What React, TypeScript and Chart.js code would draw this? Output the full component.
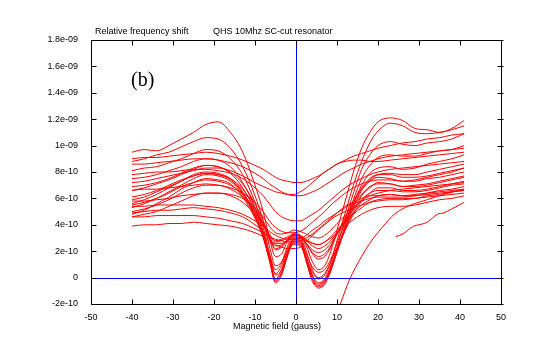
import React, { useEffect, useRef } from "react";
import { Chart, registerables } from "chart.js";

Chart.register(...registerables);

// Values in units of 1e-10 (relative frequency shift)
const UNIT = 1e-10;

const xGrid = [-40, -37, -34, -31, -28, -25, -22, -19, -16, -13, -10, -8, -6.5, -5, -3.5, -2, -0.5, 1, 2.5, 4, 5.5, 7, 8.5, 10, 12, 14, 16, 18, 20, 23, 26, 29, 32, 35, 38, 41];

// deep double-dip sweeps
const d1 = [9.5, 9.7, 9.6, 10.0, 10.5, 11.0, 11.6, 11.8, 11.0, 9.5, 7.0, 5.0, 3.0, 1.6, 1.8, 2.8, 3.3, 3.2, 2.4, 1.2, 0.6, 0.9, 2.0, 3.6, 5.8, 8.0, 9.8, 11.0, 11.8, 12.1, 11.9, 11.3, 11.2, 11.0, 11.3, 11.9];
const d2 = [8.8, 9.0, 9.3, 9.5, 9.9, 10.3, 10.6, 10.5, 9.8, 8.4, 6.2, 4.3, 2.4, 0.9, 1.2, 2.4, 3.2, 3.1, 2.0, 0.6, -0.1, 0.2, 1.2, 2.8, 4.9, 7.0, 8.8, 10.2, 11.1, 11.7, 11.5, 11.0, 10.9, 11.0, 11.2, 11.5];
const d3 = [8.1, 8.3, 8.4, 8.7, 9.0, 9.4, 9.7, 9.6, 9.0, 7.8, 5.7, 3.8, 1.9, 0.2, 0.6, 2.0, 3.0, 2.9, 1.6, 0.1, -0.5, -0.2, 0.8, 2.3, 4.4, 6.4, 8.2, 9.3, 10.0, 10.3, 10.1, 10.0, 10.2, 10.3, 10.5, 10.9];
const d4 = [7.5, 7.6, 7.8, 8.1, 8.4, 8.8, 9.0, 8.9, 8.4, 7.2, 5.3, 3.5, 1.6, -0.2, 0.3, 1.8, 2.9, 2.8, 1.4, -0.1, -0.8, -0.5, 0.5, 2.0, 4.0, 5.9, 7.5, 8.5, 9.1, 9.3, 9.2, 9.2, 9.4, 9.6, 9.7, 10.0];
const d5 = [6.6, 6.8, 7.1, 7.4, 7.8, 8.2, 8.5, 8.4, 7.9, 6.8, 5.0, 3.3, 1.4, -0.4, 0.2, 1.7, 2.8, 2.7, 1.2, -0.3, -0.7, -0.4, 0.6, 1.9, 3.8, 5.6, 7.0, 7.9, 8.3, 8.4, 8.2, 8.3, 8.6, 8.8, 9.0, 9.3];
const d6 = [5.9, 6.1, 6.5, 6.9, 7.3, 7.8, 8.0, 7.9, 7.5, 6.5, 4.8, 3.1, 1.3, -0.3, 0.4, 1.8, 2.7, 2.6, 1.3, -0.1, -0.6, -0.3, 0.7, 2.0, 3.7, 5.3, 6.6, 7.3, 7.6, 7.5, 7.3, 7.4, 7.6, 7.8, 8.0, 8.3];
const d7 = [5.3, 5.6, 6.0, 6.5, 7.0, 7.5, 7.8, 7.7, 7.3, 6.3, 4.6, 3.0, 1.4, -0.1, 0.6, 1.9, 2.6, 2.5, 1.4, 0.2, -0.4, -0.1, 0.9, 2.1, 3.6, 5.0, 6.2, 6.8, 7.2, 7.1, 6.9, 7.0, 7.1, 7.3, 7.5, 7.7];
const d8 = [4.8, 5.1, 5.6, 6.1, 6.7, 7.2, 7.5, 7.4, 7.1, 6.1, 4.5, 3.1, 1.6, 0.3, 0.9, 2.0, 2.5, 2.4, 1.5, 0.4, 0.0, 0.3, 1.2, 2.3, 3.6, 4.8, 5.8, 6.4, 6.8, 6.8, 6.6, 6.6, 6.7, 6.9, 7.1, 7.3];
const d9 = [5.6, 5.9, 6.3, 6.8, 7.3, 7.7, 7.9, 7.8, 7.4, 6.4, 4.7, 3.2, 1.8, 0.6, 1.1, 2.2, 2.9, 2.8, 1.8, 0.8, 0.4, 0.6, 1.4, 2.6, 4.2, 5.6, 6.7, 7.4, 7.8, 7.9, 7.8, 7.8, 8.0, 8.2, 8.4, 8.6];

// medium-dip sweeps
const m1 = [6.9, 7.0, 7.2, 7.5, 7.9, 8.3, 8.5, 8.4, 8.0, 7.1, 5.6, 4.3, 3.1, 2.1, 2.3, 2.9, 3.3, 3.2, 2.6, 1.8, 1.4, 1.6, 2.3, 3.3, 4.6, 5.8, 6.8, 7.5, 7.8, 7.8, 7.6, 7.6, 7.7, 7.9, 8.1, 8.3];
const m2 = [6.1, 6.3, 6.6, 7.0, 7.4, 7.7, 7.9, 7.8, 7.5, 6.7, 5.3, 4.1, 3.0, 2.2, 2.4, 2.9, 3.2, 3.1, 2.6, 1.9, 1.6, 1.8, 2.4, 3.3, 4.4, 5.5, 6.3, 6.9, 7.1, 7.1, 6.9, 6.9, 7.0, 7.2, 7.4, 7.6];
const m3 = [5.5, 5.7, 6.0, 6.4, 6.9, 7.2, 7.4, 7.3, 7.0, 6.3, 5.1, 4.0, 3.1, 2.4, 2.5, 2.9, 3.1, 3.0, 2.6, 2.1, 1.9, 2.1, 2.6, 3.3, 4.3, 5.2, 5.9, 6.4, 6.6, 6.6, 6.5, 6.5, 6.6, 6.8, 7.0, 7.1];
const m4 = [5.0, 5.2, 5.5, 5.9, 6.4, 6.8, 7.0, 7.0, 6.7, 6.1, 5.0, 4.0, 3.2, 2.7, 2.8, 3.0, 3.2, 3.1, 2.8, 2.4, 2.2, 2.4, 2.8, 3.4, 4.2, 4.9, 5.5, 5.9, 6.2, 6.3, 6.2, 6.2, 6.4, 6.6, 6.7, 6.9];
const m5 = [4.6, 4.8, 5.0, 5.4, 5.8, 6.2, 6.4, 6.4, 6.2, 5.7, 4.8, 4.0, 3.3, 2.8, 2.9, 3.1, 3.3, 3.2, 2.9, 2.6, 2.5, 2.7, 3.1, 3.6, 4.2, 4.8, 5.3, 5.7, 5.9, 6.0, 6.0, 6.0, 6.2, 6.3, 6.5, 6.6];
const m6 = [5.8, 5.8, 5.9, 6.0, 6.2, 6.3, 6.4, 6.4, 6.3, 6.0, 5.3, 4.6, 3.9, 3.4, 3.3, 3.4, 3.6, 3.5, 3.3, 3.1, 3.0, 3.2, 3.6, 4.1, 4.7, 5.3, 5.8, 6.2, 6.4, 6.6, 6.7, 6.8, 6.9, 7.0, 7.1, 7.2];
const m7 = [3.9, 4.0, 4.0, 4.1, 4.1, 4.2, 4.1, 4.0, 3.9, 3.7, 3.4, 3.1, 2.8, 2.6, 2.6, 2.8, 3.0, 3.0, 2.8, 2.6, 2.5, 2.7, 3.0, 3.4, 3.9, 4.4, 4.8, 5.1, 5.3, 5.4, 5.4, 5.5, 5.7, 5.9, 6.0, 6.2];

// shallow sweeps
const s1 = [9.0, 9.1, 9.1, 9.2, 9.3, 9.4, 9.5, 9.4, 9.2, 8.9, 8.5, 8.2, 7.9, 7.6, 7.4, 7.3, 7.2, 7.2, 7.3, 7.5, 7.7, 8.0, 8.3, 8.6, 8.9, 9.2, 9.4, 9.6, 9.8, 10.0, 10.2, 10.3, 10.5, 10.6, 10.8, 10.9];
const s2 = [8.6, 8.6, 8.7, 8.8, 8.9, 9.0, 9.0, 8.9, 8.7, 8.4, 7.9, 7.5, 7.1, 6.8, 6.5, 6.3, 6.2, 6.2, 6.3, 6.5, 6.7, 7.0, 7.3, 7.6, 8.0, 8.3, 8.6, 8.8, 9.0, 9.2, 9.3, 9.4, 9.5, 9.6, 9.7, 9.8];
const s3 = [7.8, 7.9, 8.0, 8.0, 8.1, 8.2, 8.2, 8.1, 7.9, 7.5, 6.8, 6.2, 5.6, 5.0, 4.6, 4.4, 4.3, 4.3, 4.5, 4.8, 5.1, 5.5, 5.9, 6.3, 6.8, 7.2, 7.5, 7.8, 8.0, 8.2, 8.3, 8.4, 8.5, 8.6, 8.7, 8.8];
const s4 = [6.6, 6.7, 6.7, 6.8, 6.9, 7.0, 7.1, 7.0, 6.8, 6.4, 5.7, 5.0, 4.3, 3.8, 3.5, 3.4, 3.4, 3.5, 3.8, 4.2, 4.6, 5.0, 5.5, 5.9, 6.4, 6.8, 7.1, 7.3, 7.4, 7.4, 7.3, 7.3, 7.5, 7.6, 7.8, 8.0];
const s5 = [5.4, 5.4, 5.5, 5.5, 5.5, 5.5, 5.4, 5.3, 5.1, 4.8, 4.3, 3.9, 3.5, 3.2, 3.0, 2.9, 2.9, 3.0, 3.2, 3.6, 3.9, 4.3, 4.6, 4.9, 5.3, 5.6, 5.8, 6.0, 6.1, 6.1, 6.1, 6.2, 6.3, 6.4, 6.5, 6.6];
const s6 = [4.6, 4.6, 4.7, 4.7, 4.7, 4.7, 4.6, 4.5, 4.3, 4.1, 3.7, 3.4, 3.1, 2.9, 2.8, 2.7, 2.7, 2.8, 3.0, 3.3, 3.7, 4.0, 4.4, 4.7, 5.0, 5.3, 5.5, 5.7, 5.8, 5.9, 5.9, 6.0, 6.1, 6.2, 6.3, 6.4];
const s7 = [4.9, 5.0, 5.1, 5.1, 5.2, 5.3, 5.2, 5.1, 4.9, 4.6, 4.0, 3.5, 2.9, 2.5, 2.3, 2.2, 2.2, 2.3, 2.7, 3.2, 3.6, 4.1, 4.5, 4.9, 5.4, 5.7, 6.0, 6.2, 6.2, 6.3, 6.2, 6.3, 6.4, 6.5, 6.6, 6.7];
const s8 = [7.2, 7.3, 7.5, 7.7, 7.9, 8.1, 8.3, 8.3, 8.1, 7.7, 7.2, 6.9, 6.7, 6.5, 6.4, 6.3, 6.3, 6.5, 6.8, 7.2, 7.6, 8.0, 8.3, 8.6, 8.8, 8.9, 8.9, 8.8, 8.8, 8.9, 9.0, 9.1, 9.2, 9.3, 9.4, 9.5];

// partial sweeps
const riseX = [10.8, 13, 16, 18, 21, 24, 28, 32, 36, 41];
const riseY = [-2.0, -0.2, 1.6, 2.6, 3.8, 4.8, 5.5, 5.9, 6.3, 6.7];
const tailX = [24.3, 26, 28.7, 30, 32, 34.5, 36, 38, 41];
const tailY = [3.1, 3.3, 3.9, 4.0, 4.2, 4.8, 4.9, 5.2, 5.7];

const fullCurves = [d1, d2, d3, d4, d5, d6, d7, d8, d9, m1, m2, m3, m4, m5, m6, m7, s1, s2, s3, s4, s5, s6, s7, s8];

const xTicks = [-50, -40, -30, -20, -10, 0, 10, 20, 30, 40, 50];
const yTicks = [-2, 0, 2, 4, 6, 8, 10, 12, 14, 16, 18];
const yTickLabels = ["-2e-10", "0", "2e-10", "4e-10", "6e-10", "8e-10", "1e-09", "1.2e-09", "1.4e-09", "1.6e-09", "1.8e-09"];

const titleLeft = "Relative frequency shift";
const titleRight = "QHS 10Mhz SC-cut resonator";
const xTitle = "Magnetic field (gauss)";
const panelLabel = "(b)";

const FONT = "'Liberation Sans', Arial, sans-serif";

export default function App() {
  const ref = useRef<HTMLCanvasElement | null>(null);

  useEffect(() => {
    if (!ref.current) return;
    const toPts = (xs: number[], ys: number[]) => xs.map((x, i) => ({ x, y: ys[i] * UNIT }));
    const datasets: any[] = fullCurves.map((ys) => ({
      data: toPts(xGrid, ys),
    }));
    datasets.push({ data: toPts(riseX, riseY) });
    datasets.push({ data: toPts(tailX, tailY) });
    datasets.forEach((d) => {
      d.showLine = true;
      d.borderColor = "#ff0000";
      d.borderWidth = 1;
      d.pointRadius = 0;
      d.fill = false;
      d.cubicInterpolationMode = "monotone";
    });

    const deco = {
      id: "deco",
      afterDatasetsDraw(chart: any) {
        const ctx = chart.ctx;
        const xs = chart.scales.x;
        const ys = chart.scales.y;
        const { left, right, top, bottom } = chart.chartArea;
        const L = Math.round(left) + 0.5;
        const R = Math.round(right) + 0.5;
        const T = Math.round(top) + 0.5;
        const B = Math.round(bottom) + 0.5;
        ctx.save();
        ctx.strokeStyle = "#0000ff";
        ctx.lineWidth = 1;
        const x0 = Math.round(xs.getPixelForValue(0)) + 0.5;
        const y0 = Math.round(ys.getPixelForValue(0)) + 0.5;
        ctx.beginPath();
        ctx.moveTo(x0, T);
        ctx.lineTo(x0, B);
        ctx.moveTo(L, y0);
        ctx.lineTo(R, y0);
        ctx.stroke();
        ctx.strokeStyle = "#000000";
        ctx.beginPath();
        ctx.rect(L, T, R - L, B - T);
        ctx.stroke();
        ctx.beginPath();
        xTicks.forEach((v) => {
          const px = Math.round(xs.getPixelForValue(v)) + 0.5;
          ctx.moveTo(px, B);
          ctx.lineTo(px, B - 5);
          ctx.moveTo(px, T);
          ctx.lineTo(px, T + 5);
        });
        yTicks.forEach((v) => {
          const py = Math.round(ys.getPixelForValue(v * UNIT)) + 0.5;
          ctx.moveTo(L, py);
          ctx.lineTo(L + 5, py);
          ctx.moveTo(R - 4, py);
          ctx.lineTo(R + 2, py);
        });
        ctx.stroke();
        ctx.fillStyle = "#000000";
        ctx.font = `9px ${FONT}`;
        ctx.textBaseline = "middle";
        ctx.textAlign = "left";
        ctx.fillText(titleLeft, 95, 32);
        ctx.fillText(titleRight, 213, 32);
        ctx.textAlign = "center";
        ctx.fillText(xTitle, 277, 327);
        ctx.font = "20px 'Liberation Serif', 'Times New Roman', serif";
        ctx.textAlign = "left";
        ctx.fillText(panelLabel, 131, 81);
        ctx.restore();
      },
    };

    const chart = new Chart(ref.current, {
      type: "scatter",
      data: { datasets },
      options: {
        animation: false,
        responsive: false,
        events: [],
        layout: { padding: { left: 0, right: 38, top: 40, bottom: 0 } },
        plugins: { legend: { display: false }, tooltip: { enabled: false } },
        scales: {
          x: {
            type: "linear",
            min: -50,
            max: 50,
            grid: { display: false },
            border: { display: false },
            afterFit: (s: any) => {
              s.height = 51;
            },
            afterBuildTicks: (s: any) => {
              s.ticks = xTicks.map((v) => ({ value: v }));
            },
            ticks: {
              color: "#000",
              font: { family: FONT, size: 9 },
              padding: 0,
              maxRotation: 0,
              autoSkip: false,
              callback: (v: any) => String(v),
            },
          },
          y: {
            type: "linear",
            min: -2 * UNIT,
            max: 18 * UNIT,
            grid: { display: false },
            border: { display: false },
            afterFit: (s: any) => {
              s.width = 91;
            },
            afterBuildTicks: (s: any) => {
              s.ticks = yTicks.map((v) => ({ value: v * UNIT }));
            },
            ticks: {
              color: "#000",
              font: { family: FONT, size: 9 },
              padding: 5,
              autoSkip: false,
              callback: (_v: any, i: number) => yTickLabels[i],
            },
          },
        },
      },
      plugins: [deco],
    });
    return () => chart.destroy();
  }, []);

  return (
    <div style={{ position: "fixed", left: 0, top: 0, width: 539, height: 355, background: "#fff" }}>
      <canvas ref={ref} width={539} height={355} style={{ width: 539, height: 355, display: "block" }} />
    </div>
  );
}
